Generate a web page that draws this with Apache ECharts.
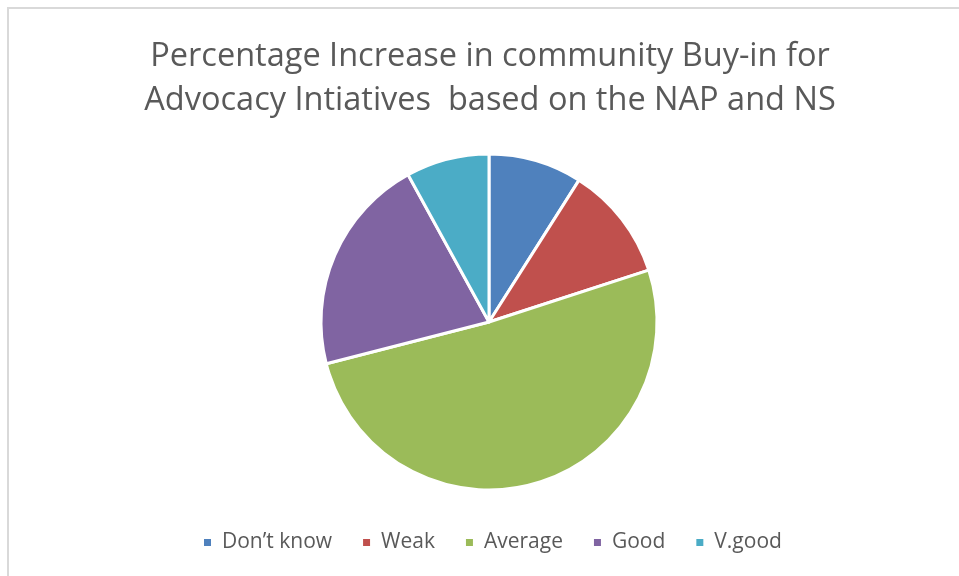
<!DOCTYPE html>
<html>
<head>
<meta charset="utf-8">
<style>
  html, body { margin: 0; padding: 0; background: #ffffff; }
  #chart { width: 959px; height: 576px; }
</style>
<script src="https://cdn.jsdelivr.net/npm/echarts@6/dist/echarts.min.js"></script>
</head>
<body>
<div id="chart"></div>
<script>
// Ratings and their share of responses (%)
const categories = ["Don\u2019t know", "Weak", "Average", "Good", "V.good"];
const shares = [9, 11, 51, 21, 8];
const colors = ["#4f81bd", "#c0504d", "#9bbb59", "#8064a2", "#4bacc6"];

const chart = echarts.init(document.getElementById('chart'), null, { renderer: 'canvas' });

const pieData = categories.map((name, i) => ({
  name: name,
  value: shares[i],
  itemStyle: { color: colors[i] }
}));

chart.setOption({
  backgroundColor: '#ffffff',
  animation: false,
  title: {
    text: 'Percentage Increase in community Buy-in for\nAdvocacy Intiatives  based on the NAP and NS',
    left: 485,
    top: 30,
    textAlign: 'center',
    textStyle: {
      fontFamily: 'Open Sans',
      fontWeight: 'normal',
      fontSize: 32.5,
      lineHeight: 44,
      color: '#595959'
    }
  },
  legend: {
    top: 527,
    left: 197,
    icon: 'rect',
    itemWidth: 9,
    itemHeight: 9,
    itemGap: 29,
    textStyle: {
      fontFamily: 'Open Sans',
      fontSize: 21,
      color: '#595959',
      padding: [0, 0, 0, 5]
    },
    data: categories
  },
  graphic: [
    {
      type: 'polyline',
      shape: { points: [[8, 576], [8, 8], [959, 8]] },
      style: { stroke: '#d9d9d9', lineWidth: 2, fill: null },
      silent: true
    }
  ],
  series: [
    {
      type: 'pie',
      center: [489, 322],
      radius: 168,
      startAngle: 90,
      clockwise: true,
      label: { show: false },
      labelLine: { show: false },
      itemStyle: { borderColor: '#ffffff', borderWidth: 3 },
      emphasis: { disabled: true },
      data: pieData
    }
  ]
});
</script>
</body>
</html>
